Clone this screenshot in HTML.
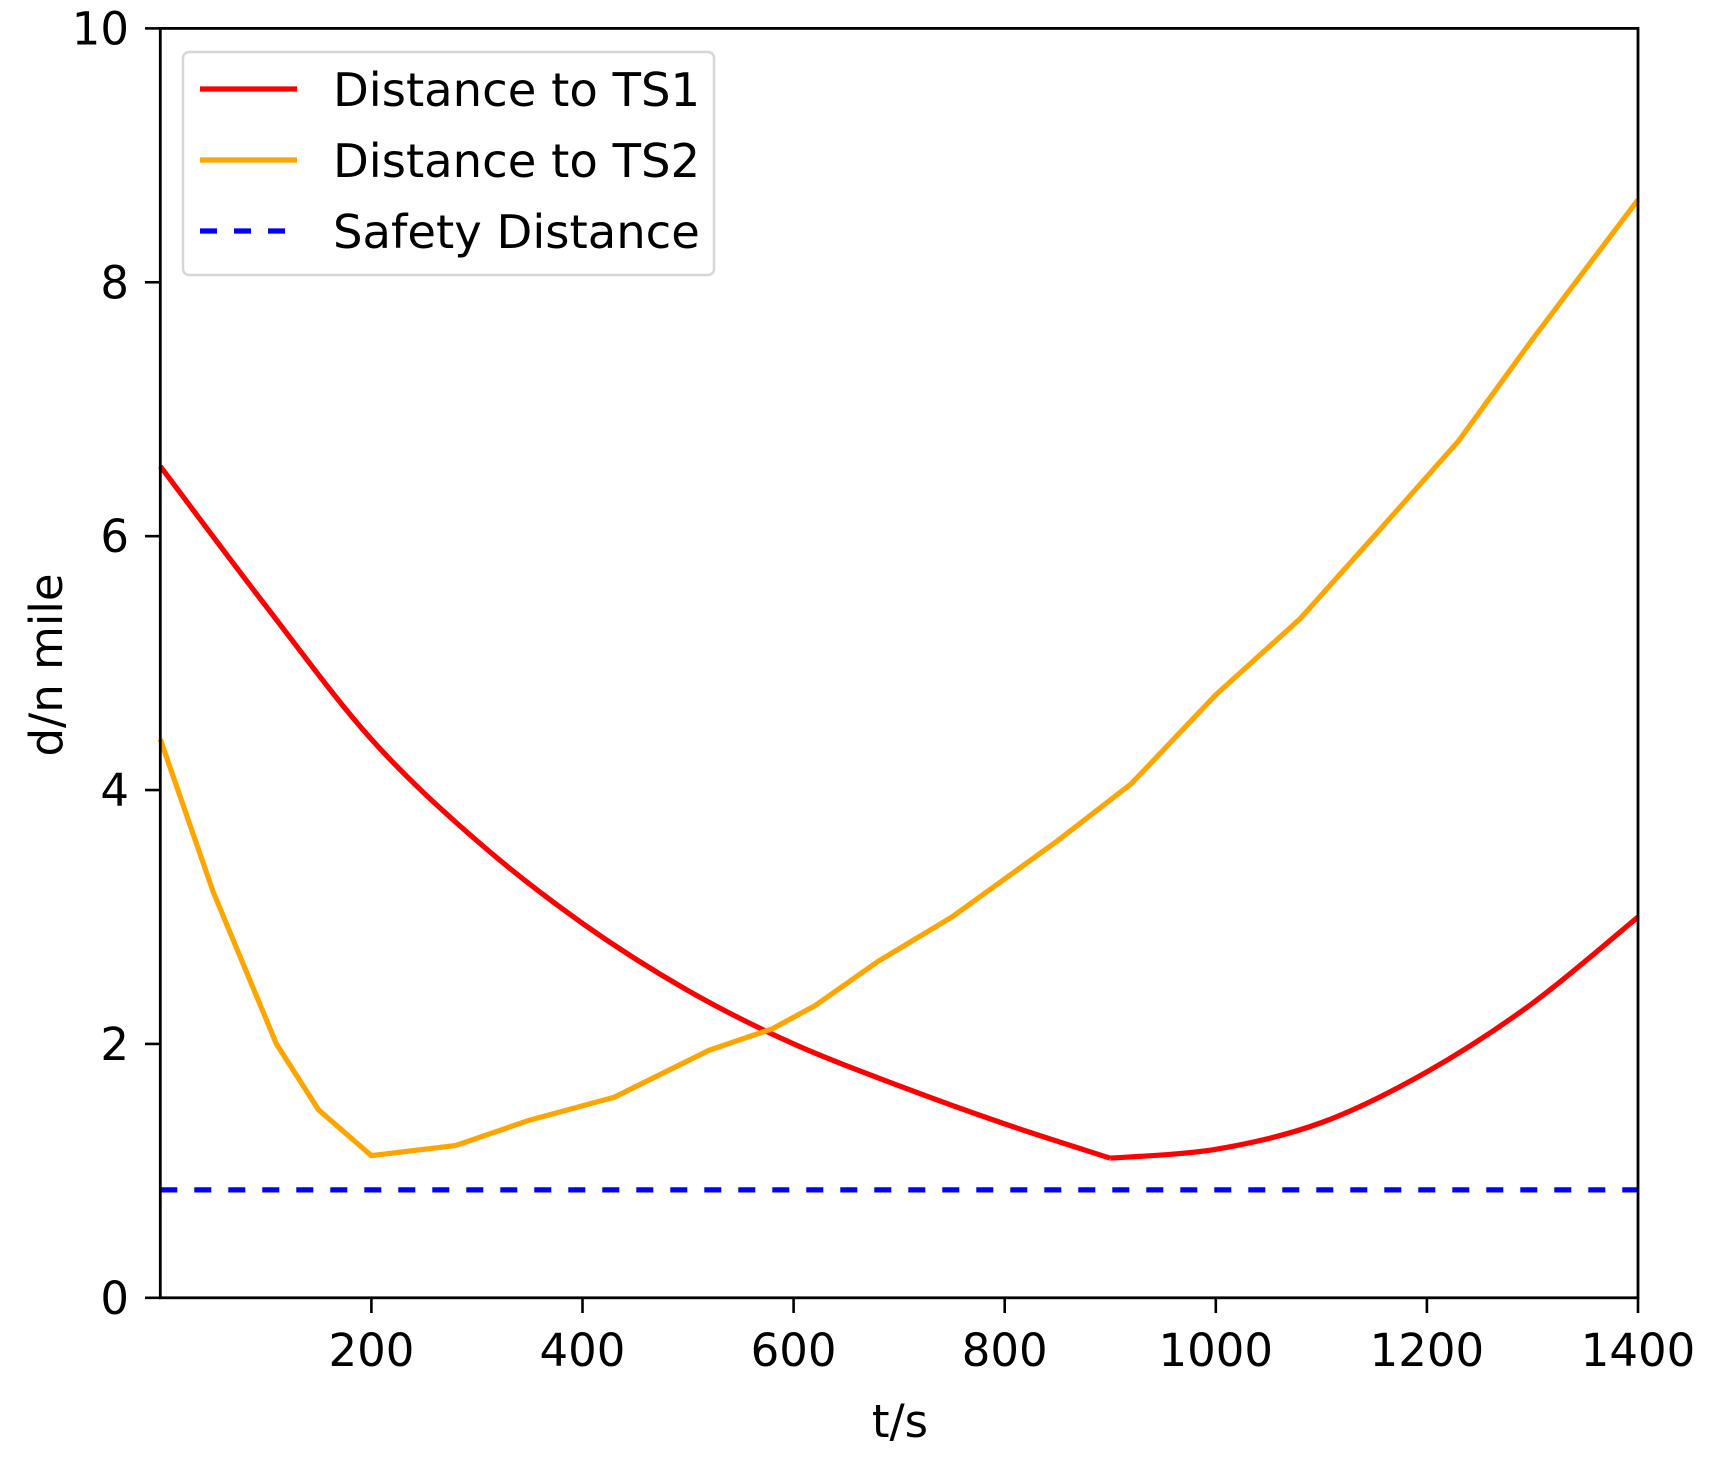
<!DOCTYPE html>
<html><head><meta charset="utf-8"><style>
html,body{margin:0;padding:0;background:#fff}
svg{display:block}
text{font-family:"DejaVu Sans","Liberation Sans",sans-serif;fill:#000}
</style></head><body>
<svg id="s" width="1710" height="1464" viewBox="0 0 1710 1464" xmlns="http://www.w3.org/2000/svg">
<rect width="1710" height="1464" fill="#fff"/>
<g id="plot"></g>
<rect x="160.3" y="28.4" width="1477.7" height="1269.4" fill="none" stroke="#000" stroke-width="2.8"/>
<g id="ticks" stroke="#000" stroke-width="2.6"></g>
<g id="labels" font-size="45"></g>
<text x="900" y="1437" font-size="45" text-anchor="middle">t/s</text>
<text transform="translate(62,665) rotate(-90)" font-size="45" text-anchor="middle">d/n mile</text>
<rect x="183" y="52" width="531" height="223" rx="6" fill="#fff" fill-opacity="0.9" stroke="#d6d6d6" stroke-width="2.4"/>
<line x1="200" y1="89" x2="297" y2="89" stroke="#ff0000" stroke-width="5.2"/>
<line x1="200" y1="160" x2="297" y2="160" stroke="#ffa500" stroke-width="5.2"/>
<line x1="200" y1="231" x2="297" y2="231" stroke="#0000ff" stroke-width="5.2" stroke-dasharray="17,17"/>
<text x="333" y="106" font-size="46.5">Distance to TS1</text>
<text x="333" y="177" font-size="46.5">Distance to TS2</text>
<text x="333" y="248" font-size="46.5">Safety Distance</text>
</svg>
<script>
var X=t=>160.3+t*1477.7/1400, Y=v=>1297.8-v*126.94;
function path(pts,c,straight){
 var d="M"+X(pts[0][0])+","+Y(pts[0][1]);
 for(var i=0;i<pts.length-1;i++){
  var p0=pts[Math.max(0,i-1)],p1=pts[i],p2=pts[i+1],p3=pts[Math.min(pts.length-1,i+2)];
  var a=[X(p0[0]),Y(p0[1])],b=[X(p1[0]),Y(p1[1])],e=[X(p2[0]),Y(p2[1])],f=[X(p3[0]),Y(p3[1])];
  var k=straight?0:1/6;
  d+=" C"+(b[0]+(e[0]-a[0])*k)+","+(b[1]+(e[1]-a[1])*k)+" "+(e[0]-(f[0]-b[0])*k)+","+(e[1]-(f[1]-b[1])*k)+" "+e[0]+","+e[1];
 }
 return '<path d="'+d+'" fill="none" stroke="'+c+'" stroke-width="5.2" stroke-linejoin="round"/>';
}
var red1=[[0,6.55],[100,5.45],[200,4.4],[300,3.6],[400,2.95],[500,2.42],[600,2.0],[700,1.67],[800,1.37],[900,1.1]];
var red2=[[900,1.1],[1000,1.17],[1100,1.38],[1200,1.78],[1300,2.32],[1400,3.0]];
var orange=[[0,4.4],[50,3.2],[80,2.6],[110,2.0],[150,1.48],[200,1.12],[280,1.2],[350,1.4],[430,1.58],[520,1.95],[580,2.12],[620,2.3],[680,2.65],[750,3.0],[850,3.6],[920,4.05],[1000,4.75],[1080,5.35],[1150,6.0],[1230,6.75],[1300,7.55],[1400,8.65]];
var g=document.getElementById("plot");
var h=path(red1,"#ff0000",false)+path(red2,"#ff0000",false)+path(orange,"#ffa500",true);
h+='<line x1="160.3" y1="'+Y(0.85)+'" x2="1638" y2="'+Y(0.85)+'" stroke="#0000ff" stroke-width="5.2" stroke-dasharray="17,17"/>';
g.innerHTML=h;
var tk="",lb="";
for(var v=0;v<=10;v+=2){var y=Y(v);tk+='<line x1="145" y1="'+y+'" x2="160.3" y2="'+y+'"/>';lb+='<text x="129" y="'+(y+16)+'" text-anchor="end">'+v+'</text>';}
for(var t=200;t<=1400;t+=200){var x=X(t);tk+='<line x1="'+x+'" y1="1297.8" x2="'+x+'" y2="1313"/>';lb+='<text x="'+x+'" y="1366" text-anchor="middle">'+t+'</text>';}
document.getElementById("ticks").innerHTML=tk;
document.getElementById("labels").innerHTML=lb;
</script>
</body></html>
